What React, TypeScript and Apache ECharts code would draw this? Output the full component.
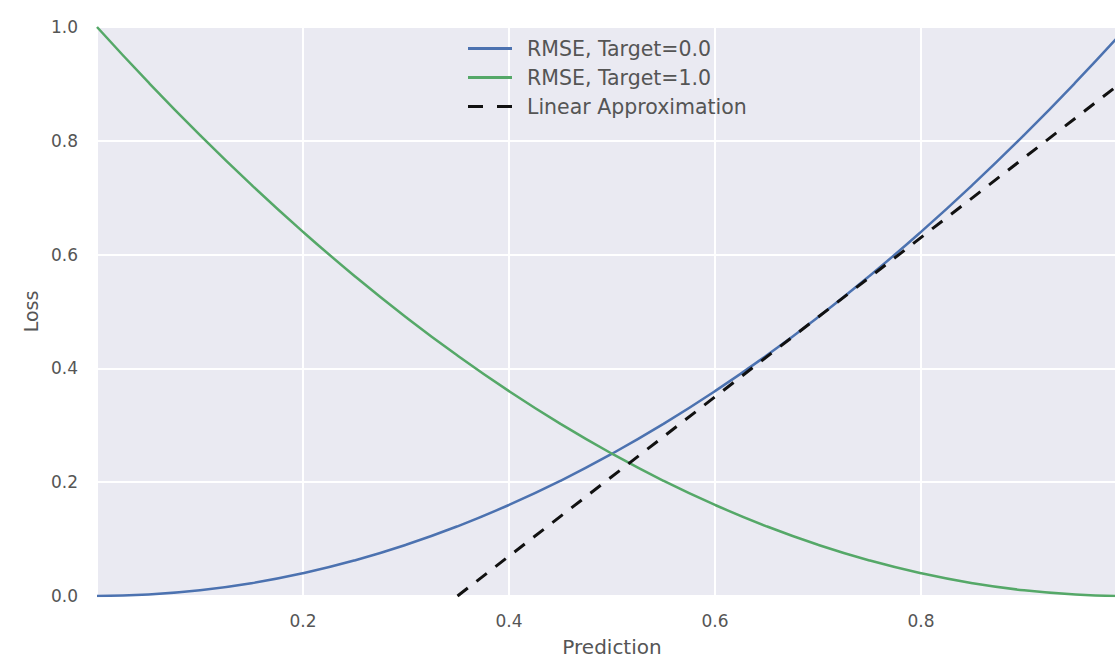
import React, { useEffect, useRef } from "react";
import * as echarts from "echarts";

// Prediction values (x) at which the curves were read
const predictions = [0, 0.05, 0.1, 0.15, 0.2, 0.25, 0.3, 0.35, 0.4, 0.45, 0.5, 0.55, 0.6, 0.65, 0.7, 0.75, 0.8, 0.85, 0.9, 0.95, 1.0];
// Loss for target = 0.0
const lossTarget0 = [0, 0.0025, 0.01, 0.0225, 0.04, 0.0625, 0.09, 0.1225, 0.16, 0.2025, 0.25, 0.3025, 0.36, 0.4225, 0.49, 0.5625, 0.64, 0.7225, 0.81, 0.9025, 1.0];
// Loss for target = 1.0
const lossTarget1 = [1.0, 0.9025, 0.81, 0.7225, 0.64, 0.5625, 0.49, 0.4225, 0.36, 0.3025, 0.25, 0.2025, 0.16, 0.1225, 0.09, 0.0625, 0.04, 0.0225, 0.01, 0.0025, 0];
// Linear approximation end points
const linearX = [0.35, 1.0];
const linearY = [0, 0.91];

const seriesNames = ["RMSE, Target=0.0", "RMSE, Target=1.0", "Linear Approximation"];
const xTicks = [0.2, 0.4, 0.6, 0.8];

const FONT = "DejaVu Sans";
const SOLID_ICON = "path://M0,0H44V3H0Z";
const DASH_ICON = "path://M0,0H15V3H0Z M29,0H44V3H29Z";

export default function App() {
  const ref = useRef<HTMLDivElement>(null);
  useEffect(() => {
    if (!ref.current) return;
    const chart = echarts.init(ref.current, undefined, { renderer: "svg" });
    const zip = (xs: number[], ys: number[]) => xs.map((x, i) => [x, ys[i]]);
    chart.setOption({
      animation: false,
      backgroundColor: "#ffffff",
      textStyle: { fontFamily: FONT },
      grid: {
        left: 97,
        top: 27,
        width: 1030,
        height: 569,
        show: true,
        backgroundColor: "#EAEAF2",
        borderWidth: 0,
        containLabel: false,
        outerBoundsMode: "none",
      },
      legend: {
        orient: "vertical",
        left: 468,
        top: 38,
        padding: 0,
        itemWidth: 44,
        itemHeight: 3,
        itemGap: 8,
        data: [
          { name: seriesNames[0], icon: SOLID_ICON },
          { name: seriesNames[1], icon: SOLID_ICON },
          { name: seriesNames[2], icon: DASH_ICON },
        ],
        textStyle: { fontFamily: FONT, fontSize: 20.5, color: "#555", padding: [0, 0, 0, 10] },
      },
      xAxis: {
        type: "value",
        min: 0,
        max: 1,
        interval: 0.2,
        name: "Prediction",
        nameLocation: "middle",
        nameGap: 41,
        nameTextStyle: { fontFamily: FONT, fontSize: 20, color: "#555" },
        axisLine: { show: false },
        axisTick: { show: false },
        axisLabel: {
          showMinLabel: false,
          showMaxLabel: false,
          margin: 16,
          fontFamily: FONT,
          fontSize: 17,
          color: "#555",
          formatter: (v: number) => (xTicks.some((t) => Math.abs(t - v) < 1e-9) ? v.toFixed(1) : ""),
        },
        splitLine: { show: true, lineStyle: { color: "#ffffff", width: 2 } },
      },
      yAxis: {
        type: "value",
        min: 0,
        max: 1,
        interval: 0.2,
        name: "Loss",
        nameLocation: "middle",
        nameGap: 56,
        nameTextStyle: { fontFamily: FONT, fontSize: 19, color: "#555" },
        axisLine: { show: false },
        axisTick: { show: false },
        axisLabel: {
          margin: 19,
          fontFamily: FONT,
          fontSize: 17,
          color: "#555",
          formatter: (v: number) => v.toFixed(1),
        },
        splitLine: { show: true, lineStyle: { color: "#ffffff", width: 2 } },
      },
      series: [
        {
          name: seriesNames[0],
          type: "line",
          data: zip(predictions, lossTarget0),
          smooth: true,
          symbol: "none",
          lineStyle: { color: "#4C72B0", width: 2.5 },
          itemStyle: { color: "#4C72B0" },
        },
        {
          name: seriesNames[1],
          type: "line",
          data: zip(predictions, lossTarget1),
          smooth: true,
          symbol: "none",
          lineStyle: { color: "#55A868", width: 2.5 },
          itemStyle: { color: "#55A868" },
        },
        {
          name: seriesNames[2],
          type: "line",
          data: zip(linearX, linearY),
          symbol: "none",
          lineStyle: { color: "#111111", width: 3, type: [13, 11] },
          itemStyle: { color: "#111111" },
        },
      ],
    });
    return () => chart.dispose();
  }, []);
  return (
    <div style={{ position: "fixed", left: 0, top: 0, width: 1115, height: 661, overflow: "hidden" }}>
      <div ref={ref} style={{ width: 1140, height: 661 }} />
    </div>
  );
}
